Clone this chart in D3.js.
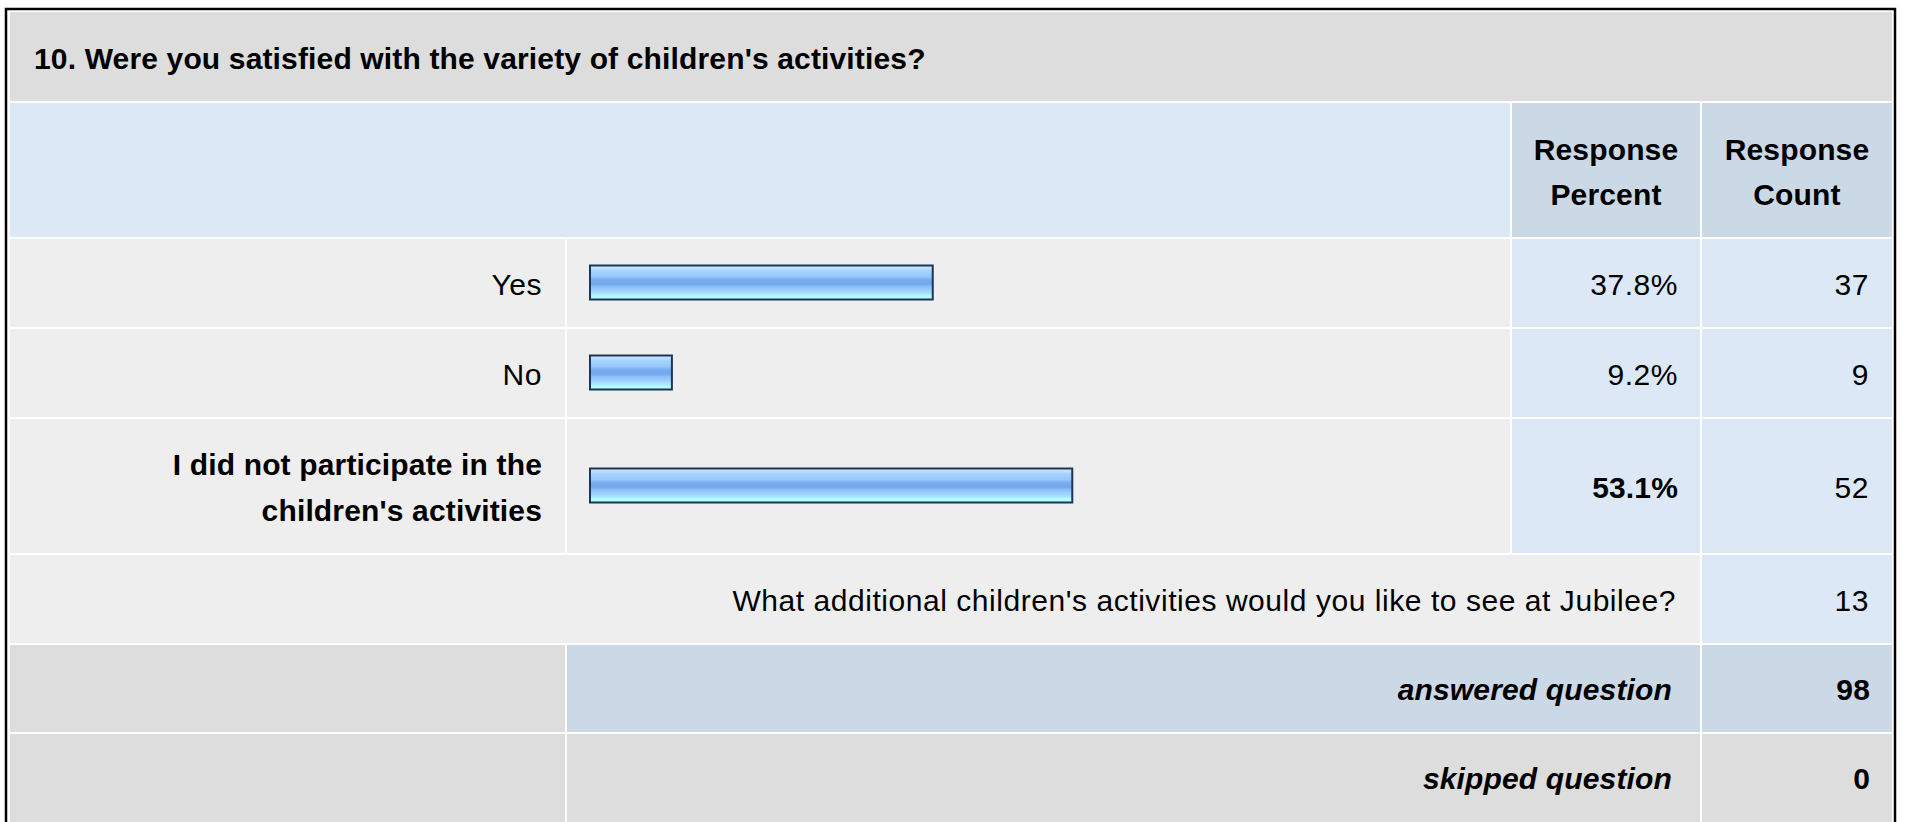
<!DOCTYPE html>
<html>
<head>
<meta charset="utf-8">
<script src="https://cdn.jsdelivr.net/npm/d3@7"></script>
<style>
  html, body { margin: 0; padding: 0; background: #ffffff; }
  svg { display: block; }
  text { font-family: Arial, "Liberation Sans", Helvetica, sans-serif; fill: #000; }
</style>
</head>
<body>
<svg id="chart" width="1907" height="822"></svg>
<script>
// ---------- data ----------
const question = "10. Were you satisfied with the variety of children's activities?";
const categories = ["Yes", "No", "I did not participate in the children's activities"];
const percents = [37.8, 9.2, 53.1];
const counts = [37, 9, 52];
const headerLabels = [["Response", "Percent"], ["Response", "Count"]];
const otherPrompt = "What additional children's activities would you like to see at Jubilee?";
const otherCount = 13;
const summaryLabels = ["answered question", "skipped question"];
const summaryValues = [98, 0];

// ---------- layout ----------
const W = 1907, H = 822;
const svg = d3.select("#chart");
const C = {
  title: "#dddddd", head: "#dce8f6", headDark: "#cbd8e6",
  cell: "#eeeeee", cellBlue: "#dce8f6", summary: "#dddddd"
};
const colX = { l0: 10, l1: 565, b0: 567, b1: 1510, p0: 1512, p1: 1700, c0: 1702, c1: 1892 };
const gap = 2;
const FS = 30;

// outer frame
svg.append("rect").attr("x", 0).attr("y", 0).attr("width", W).attr("height", H).attr("fill", "#fff");
svg.append("rect").attr("x", 6).attr("y", 9).attr("width", 1889).attr("height", H + 20)
  .attr("fill", "none").attr("stroke", "#000").attr("stroke-width", 2.5);

function cell(x0, x1, y, h, fill) {
  svg.append("rect").attr("x", x0).attr("y", y).attr("width", x1 - x0).attr("height", h).attr("fill", fill);
}
function txt(x, y, s, anchor, opts = {}) {
  return svg.append("text").attr("x", x).attr("y", y).attr("text-anchor", anchor)
    .attr("font-size", FS).attr("font-weight", opts.bold ? "bold" : "normal")
    .attr("letter-spacing", opts.bold ? "0.15px" : "0.55px")
    .attr("font-style", opts.italic ? "italic" : "normal").text(s);
}

// word wrap helper
const measurer = svg.append("text").attr("font-size", FS).attr("font-weight", "bold").attr("visibility", "hidden");
function wrap(s, maxW, bold) {
  measurer.attr("font-weight", bold ? "bold" : "normal");
  const words = s.split(" ");
  const lines = [];
  let cur = "";
  words.forEach(w => {
    const trial = cur ? cur + " " + w : w;
    measurer.text(trial);
    if (measurer.node().getComputedTextLength() > maxW && cur) { lines.push(cur); cur = w; }
    else cur = trial;
  });
  if (cur) lines.push(cur);
  return lines;
}

let y = 12;
// title row
const titleH = 89;
cell(colX.l0, colX.c1, y, titleH, C.title);
txt(34, y + 57, question, "start", { bold: true });
y += titleH + gap;

// header row
const headH = 134;
cell(colX.l0, colX.b1, y, headH, C.head);
cell(colX.p0, colX.p1, y, headH, C.headDark);
cell(colX.c0, colX.c1, y, headH, C.headDark);
headerLabels.forEach((lines, i) => {
  const cx = i === 0 ? (colX.p0 + colX.p1) / 2 : (colX.c0 + colX.c1) / 2;
  lines.forEach((ln, j) => txt(cx, y + 57 + j * 45, ln, "middle", { bold: true }));
});
y += headH + gap;

// bar scale
const barX0 = 589;
const x = d3.scaleLinear().domain([0, 100]).range([0, 912]);
const maxP = d3.max(percents);

const defs = svg.append("defs");
const grad = defs.append("linearGradient").attr("id", "barGrad").attr("x1", 0).attr("y1", 0).attr("x2", 0).attr("y2", 1);
[[0, "#d2e9ff"], [0.08, "#bfe0ff"], [0.16, "#a6d2ff"], [0.32, "#98c8fb"], [0.42, "#78acf0"],
 [0.55, "#72a8ef"], [0.62, "#8ebef8"], [0.75, "#9fd2ff"], [0.84, "#a8e8ff"], [0.9, "#b2ffff"], [1, "#b2ffff"]]
  .forEach(([o, c]) => grad.append("stop").attr("offset", o).attr("stop-color", c));

categories.forEach((cat, i) => {
  const bold = percents[i] === maxP;
  const lines = wrap(cat, 500, bold);
  const h = 88 + (lines.length - 1) * 46;
  cell(colX.l0, colX.l1, y, h, C.cell);
  cell(colX.b0, colX.b1, y, h, C.cell);
  cell(colX.p0, colX.p1, y, h, C.cellBlue);
  cell(colX.c0, colX.c1, y, h, C.cellBlue);
  const firstBase = y + h / 2 + 12 - (lines.length - 1) * 23;
  lines.forEach((ln, j) => txt(542, firstBase + j * 46, ln, "end", { bold }));
  const cy = y + h / 2 - 0.5;
  svg.append("rect")
    .attr("x", barX0 + 1).attr("y", cy - 17)
    .attr("width", Math.max(0, x(percents[i]) - 2)).attr("height", 34)
    .attr("fill", "url(#barGrad)").attr("stroke", "#1d3557").attr("stroke-width", 2);
  txt(1678, y + h / 2 + 12, d3.format(".1f")(percents[i]) + "%", "end", { bold });
  txt(1869, y + h / 2 + 12, counts[i], "end");
  y += h + gap;
});

// other prompt row
{
  const h = 88;
  cell(colX.l0, colX.p1, y, h, C.cell);
  cell(colX.c0, colX.c1, y, h, C.cellBlue);
  txt(1676, y + 56, otherPrompt, "end");
  txt(1869, y + 56, otherCount, "end");
  y += h + gap;
}

// summary rows
summaryLabels.forEach((lab, i) => {
  const h = i === 0 ? 87 : 100;
  const fillMid = i === 0 ? C.headDark : C.summary;
  cell(colX.l0, colX.l1, y, h, C.summary);
  cell(colX.b0, colX.p1, y, h, fillMid);
  cell(colX.c0, colX.c1, y, h, fillMid);
  txt(1672, y + 55, lab, "end", { bold: true, italic: true });
  txt(1870, y + 55, summaryValues[i], "end", { bold: true });
  y += h + gap;
});
</script>
</body>
</html>
